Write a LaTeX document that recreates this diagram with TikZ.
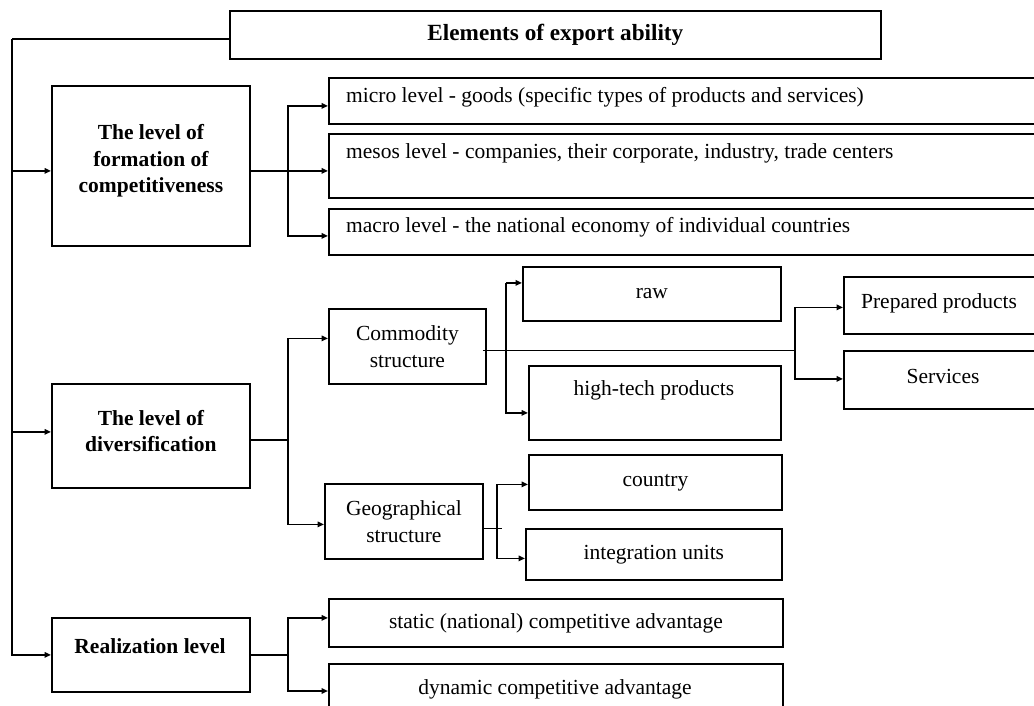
\documentclass[tikz,border=0pt]{standalone}
\usepackage{fontspec}
\setmainfont{Liberation Serif}
\usetikzlibrary{arrows.meta}
\begin{document}
\begin{tikzpicture}[x=1pt,y=-1pt,
  box/.style={draw, line width=1.8pt, inner sep=0pt, anchor=north west},
  txt/.style={font=\fontsize{21.5}{27}\selectfont, inner sep=0pt, align=center},
  btxt/.style={font=\fontsize{21.5}{26.5}\selectfont\bfseries, inner sep=0pt, align=center},
  conn/.style={line width=1.8pt},
  arr/.style={conn, -{Triangle[length=6.5pt,width=5.5pt]}}]
\useasboundingbox (0,0) rectangle (1034,706);
\fill[white] (0,0) rectangle (1034,706);
\clip (0,0) rectangle (1034,706);

% boxes
\node[box, minimum width=651, minimum height=48] (title) at (229,10) {};
\node[btxt, font=\fontsize{23.2}{27}\selectfont\bfseries] (titlet) at (title.center) {Elements of export ability};

\node[box, minimum width=198, minimum height=160] (form) at (51,85) {};
\node[btxt] (formt) at ([yshift=5pt]form.center) {The level of\\formation of\\competitiveness};

\node[box, minimum width=722, minimum height=46] (micro) at (328,77) {};
\node[txt, anchor=base west] (microt) at (346,103) {micro level - goods (specific types of products and services)};
\node[box, minimum width=722, minimum height=64] (mesos) at (328,133) {};
\node[txt, anchor=base west] (mesost) at (346,159) {mesos level - companies, their corporate, industry, trade centers};
\node[box, minimum width=722, minimum height=46] (macro) at (328,208) {};
\node[txt, anchor=base west] (macrot) at (346,233) {macro level - the national economy of individual countries};

\node[box, minimum width=198, minimum height=104] (div) at (51,383) {};
\node[btxt] (divt) at ([yshift=5pt]div.center) {The level of\\diversification};

\node[box, txt, minimum width=157, minimum height=75] (comm) at (328,308) {Commodity\\structure};
\node[box, txt, minimum width=158, minimum height=75] (geo) at (324,483) {Geographical\\structure};

\node[box, txt, minimum width=258, minimum height=54] (raw) at (522,266) {raw};
\node[box, minimum width=252, minimum height=74] (hitech) at (528,365) {};
\node[txt] (hitecht) at (654,390) {high-tech products};

\node[box, minimum width=220, minimum height=57] (prep) at (843,276) {};
\node[txt] (prept) at (939,303) {Prepared products};
\node[box, minimum width=220, minimum height=58] (serv) at (843,350) {};
\node[txt] (servt) at (943,376) {Services};

\node[box, txt, minimum width=253, minimum height=55] (country) at (528,454) {country};
\node[box, txt, minimum width=256, minimum height=51] (integ) at (525,528) {integration units};

\node[box, minimum width=198, minimum height=74] (real) at (51,617) {};
\node[btxt] (realt) at (150,646) {Realization level};

\node[box, txt, minimum width=454, minimum height=48] (static) at (328,598) {static (national) competitive advantage};
\node[box, minimum width=454, minimum height=60] (dyn) at (328,663) {};
\node[txt] (dynt) at (555,689) {dynamic competitive advantage};

% bus coordinates
\coordinate (L) at (12,39);
\coordinate (B1) at (288,0);
\coordinate (B2) at (506,0);
\coordinate (B3) at (795,0);
\coordinate (B4) at (497,0);

% main left line
\draw[conn] (title.west |- L) -- (L);
\draw[arr] (L) |- (real.west);
\coordinate (fa) at ([yshift=-5pt]form.west);
\coordinate (da) at ([yshift=4pt]div.west);
\draw[arr] (fa -| L) -- (fa);
\draw[arr] (da -| L) -- (da);

% formation branches
\coordinate (fo) at ([yshift=-5pt]form.east);
\coordinate (mia) at ([yshift=-5pt]micro.west);
\coordinate (mea) at ([yshift=-5pt]mesos.west);
\coordinate (maa) at ([yshift=-4pt]macro.west);
\draw[conn] (fo) -- (fo -| B1);
\draw[arr] (fo -| B1) |- (mia);
\draw[arr] (fo -| B1) |- (maa);
\draw[arr] (mea -| B1) -- (mea);

% diversification branches
\coordinate (do) at ([yshift=-4pt]div.east);
\coordinate (ca) at ([yshift=8pt]comm.west);
\coordinate (ga) at ([yshift=-3pt]geo.west);
\draw[conn] (do) -- (do -| B1);
\draw[arr] (do -| B1) |- (ca);
\draw[arr] (do -| B1) |- (ga);

% commodity branches
\coordinate (co) at ([yshift=-4pt,xshift=-4pt]comm.east);
\coordinate (pa) at ([yshift=-2pt]prep.west);
\coordinate (sa) at ([yshift=1pt]serv.west);
\draw[conn] (co) -- (co -| B3);
\draw[arr] (co -| B3) |- (pa);
\draw[arr] (co -| B3) |- (sa);
\coordinate (ra) at ([yshift=11pt]raw.west);
\coordinate (ha) at ([yshift=-10pt]hitech.west);
\draw[arr] (ra -| B2) -- (ra);
\draw[arr] (ra -| B2) |- (ha);

% geographical branches
\coordinate (go) at ([yshift=-7pt]geo.east);
\coordinate (gend) at (502,0);
\draw[conn] (go) -- (go -| gend);
\coordinate (cya) at ([yshift=-2pt]country.west);
\coordinate (ia) at ([yshift=-4pt]integ.west);
\draw[arr] (cya -| B4) -- (cya);
\draw[arr] (cya -| B4) |- (ia);

% realization branches
\coordinate (sta) at ([yshift=5pt]static.west);
\coordinate (dya) at ([yshift=-28pt]dyn.north west);
\draw[conn] (real.east) -- (real.east -| B1);
\draw[arr] (real.east -| B1) |- (sta);
\draw[arr] (real.east -| B1) |- (dya);
\end{tikzpicture}
\end{document}
